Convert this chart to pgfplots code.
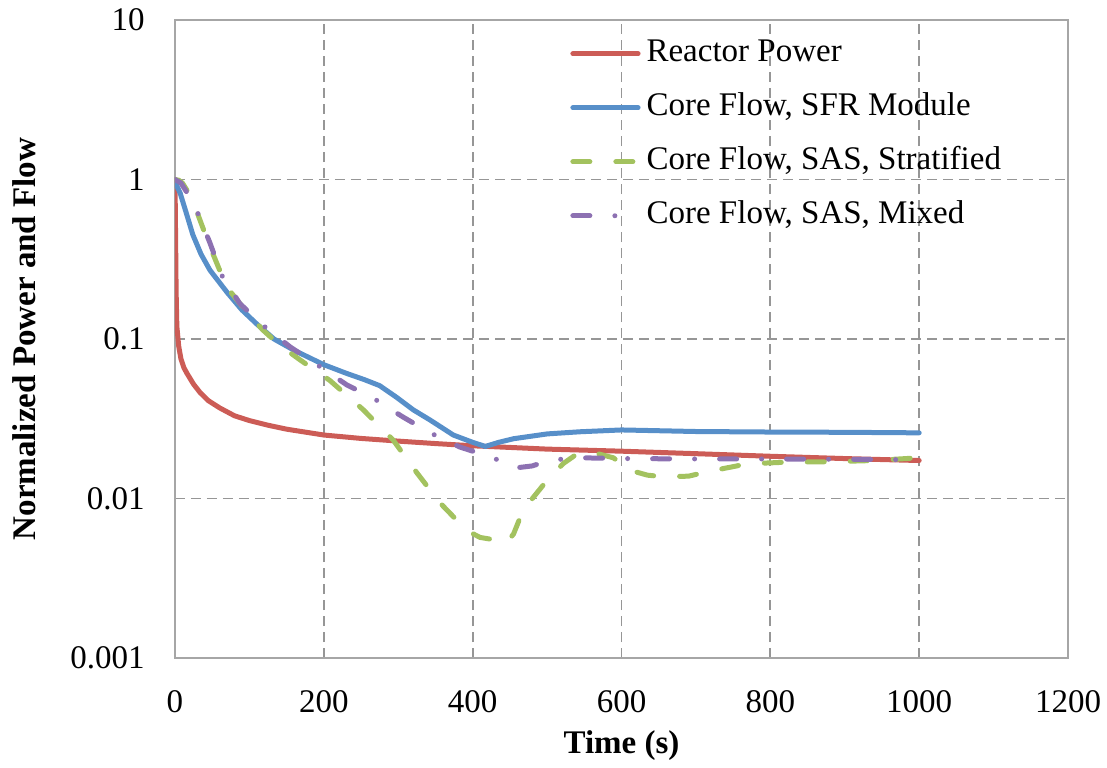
\documentclass[border=0pt]{standalone}
\usepackage{fontspec}
\setmainfont{Liberation Serif}
\usepackage{pgfplots}
\pgfplotsset{compat=1.18}
\definecolor{cred}{RGB}{204,92,86}
\definecolor{cblue}{RGB}{87,143,201}
\definecolor{cgreen}{RGB}{163,194,95}
\definecolor{cpurple}{RGB}{141,113,178}
\definecolor{cgrid}{RGB}{150,150,150}
\definecolor{caxis}{RGB}{166,166,166}
\newcommand{\fs}{\fontsize{16.5bp}{20bp}\selectfont}
\begin{document}
\begin{tikzpicture}
\begin{axis}[
  scale only axis, width=446.5bp, height=319bp,
  xmin=0, xmax=1200, ymode=log, ymin=0.001, ymax=10,
  xtick={0,200,...,1200},
  ytick={0.001,0.01,0.1,1,10}, yticklabels={0.001,0.01,0.1,1,10},
  minor ytick={}, 
  grid=major,
  major grid style={draw=cgrid, line width=0.9bp, dash pattern=on 5bp off 3bp},
  axis line style={draw=caxis, line width=1.25bp},
  major tick length=0pt, minor tick length=0pt,
  tick style={draw=none},
  ticklabel style={font=\fs, inner sep=0pt},
  /pgf/number format/assume math mode=true,
  /pgf/number format/1000 sep={},
  xticklabel style={anchor=north, yshift=-16bp},
  yticklabel style={anchor=east, xshift=-15bp},
  xlabel={\bfseries Time (s)},
  ylabel={\bfseries Normalized Power and Flow},
  xlabel style={font=\fs, at={(axis description cs:0.5,0)}, anchor=center, yshift=-44bp},
  ylabel style={font=\fs, at={(axis description cs:0,0.5)}, anchor=center, yshift=75.5bp},
  legend cell align=left,
  legend style={draw=none, fill=none, at={(rel axis cs:0.4423,0.99)}, anchor=north west,
    font=\fs, inner sep=0pt, row sep=0pt,
    nodes={inner sep=0pt, text height=12bp, text depth=4bp, inner ysep=5.5bp, inner xsep=3bp}},
  legend image code/.code={\draw[#1] (1.2bp,0bp) -- (33.8bp,0bp);},
  every axis plot/.append style={line width=2.5bp, line cap=round, line join=round},
]
\coordinate (O) at (rel axis cs:0,0);
\addplot[cred, no marks] coordinates {
(0,1) (0.5,0.6) (1,0.35) (1.5,0.2) (2.5,0.12) (5,0.09) (8,0.075) (12,0.066) (16,0.061) (25,0.052) (34,0.046) (45,0.041) (60,0.037) (80,0.033) (100,0.0308) (125,0.0288) (150,0.0272) (200,0.0250) (250,0.0238) (300,0.0229) (350,0.0221) (400,0.0214) (450,0.0209) (500,0.0204) (600,0.0198) (700,0.0191) (800,0.0184) (900,0.0178) (1000,0.0173)
};
\addlegendentry{Reactor Power}
\addplot[cblue, no marks] coordinates {
(0,1) (3,0.9) (7,0.82) (15,0.62) (24,0.45) (35,0.34) (47,0.27) (70,0.196) (90,0.152) (110,0.124) (133,0.1) (160,0.085) (200,0.069) (230,0.061) (255,0.0555) (275,0.051) (298,0.043) (320,0.036) (343,0.031) (374,0.025) (400,0.0225) (417,0.0212) (435,0.0225) (455,0.0237) (500,0.0254) (544,0.0262) (600,0.0269) (650,0.0266) (700,0.0263) (800,0.0261) (900,0.026) (1000,0.0258)
};
\addlegendentry{Core Flow, SFR Module}
\addplot[cgreen, no marks, dash pattern=on 8.5bp off 13bp] coordinates {
(0,1) (5,0.99) (10,0.95) (20,0.8) (31,0.6) (45,0.4) (60,0.27) (76,0.194) (95,0.15) (118,0.114) (140,0.092) (168,0.074) (208,0.055) (253,0.036) (293,0.0233) (325,0.0145) (356,0.0094) (392,0.0063) (410,0.0057) (430,0.0055) (446,0.0053) (455,0.006) (468,0.0085) (500,0.013) (522,0.0166) (540,0.019) (553,0.0196) (570,0.019) (589,0.018) (612,0.015) (635,0.014) (656,0.0137) (690,0.0138) (715,0.0147) (769,0.0165) (823,0.0169) (880,0.017) (938,0.0173) (1000,0.018)
};
\addlegendentry{Core Flow, SAS, Stratified}
\addplot[cpurple, no marks, dash pattern=on 8.5bp off 12.5bp on 0bp off 12.5bp] coordinates {
(0,1) (8,0.95) (16,0.83) (31,0.61) (47,0.4) (63,0.25) (87,0.167) (118,0.122) (155,0.089) (191,0.069) (231,0.0515) (266,0.0427) (306,0.0325) (343,0.0258) (383,0.021) (423,0.0183) (460,0.0156) (480,0.016) (504,0.0174) (544,0.018) (600,0.0178) (700,0.0177) (800,0.0177) (900,0.0176) (1000,0.0175)
};
\addlegendentry{Core Flow, SAS, Mixed}
\end{axis}
\path[use as bounding box] ([shift={(-87.5bp,-53.5bp)}]O) rectangle ([shift={(466bp,329bp)}]O);
\end{tikzpicture}
\end{document}
